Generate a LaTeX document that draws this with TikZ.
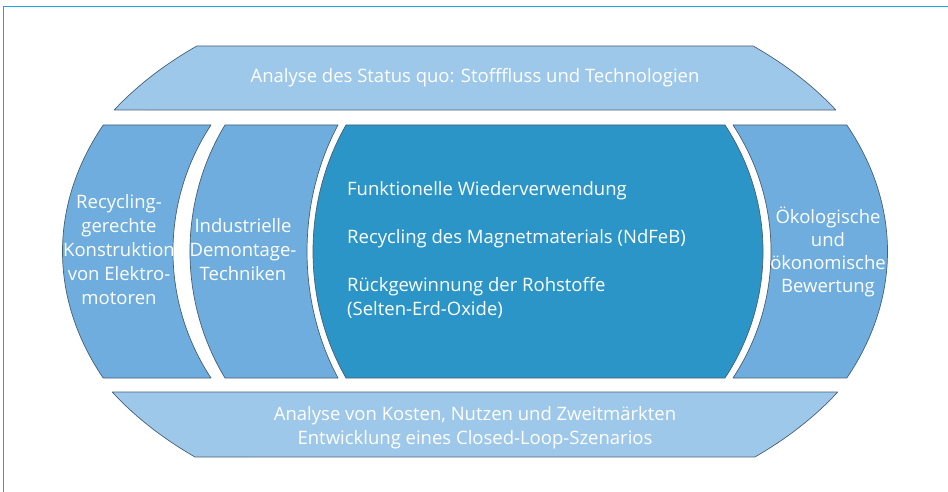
\documentclass[tikz,border=0pt]{standalone}
\usepackage{fontspec}
\setmainfont{Open Sans}
\definecolor{bandblue}{RGB}{158,200,234}
\definecolor{sideblue}{RGB}{110,173,222}
\definecolor{coreblue}{RGB}{43,149,199}
\definecolor{edgegray}{RGB}{72,96,116}
\definecolor{framecyan}{RGB}{24,164,230}
\tikzset{
  piece/.style={draw=edgegray, line width=0.7pt, line join=round},
  band/.style={piece, fill=bandblue},
  side/.style={piece, fill=sideblue},
  core/.style={piece, fill=coreblue},
  lbl/.style={text=white, inner sep=0pt, font=\fontsize{18.5}{24}\selectfont},
  frameline/.style={draw=framecyan, line width=1.6pt},
  outer/.style={x radius=412.5, y radius=292},
  bandarc/.style={x radius=422, y radius=274}
}
\begin{document}
\begin{tikzpicture}[x=1pt, y=-1pt]
\useasboundingbox (0,0) rectangle (948,492);
\fill[white] (0,0) rectangle (948,492);

% frame (only the top and left sides lie inside the page)
\coordinate (fbl) at (3.5,495);
\coordinate (ftr) at (951,6.5);
\draw[frameline] (fbl) |- (ftr);

% top band
\draw[band] (196.8,46) -- (753.2,46)
  arc[start angle=-48.75, end angle=-31.21, bandarc] -- (114.2,110)
  arc[start angle=211.21, end angle=228.75, bandarc] -- cycle;

% bottom band
\draw[band] (112.3,392) -- (837.7,392)
  arc[start angle=30.73, end angle=48.43, bandarc] -- (195,457)
  arc[start angle=131.57, end angle=149.27, bandarc] -- cycle;

% left column
\draw[side] (103.2,125) -- (211,125)
  .. controls (160.3,202) and (160.3,301) .. (211,378) -- (103.2,378)
  arc[start angle=154.33, end angle=205.67, outer] -- cycle;

% second column
\draw[side] (225,125) -- (338,125)
  .. controls (296.7,202) and (296.7,301) .. (338,378) -- (225,378)
  .. controls (178.3,301) and (178.3,202) .. (225,125) -- cycle;

% central block
\draw[core] (346,125) -- (725,125)
  .. controls (775.7,202) and (775.7,301) .. (725,378) -- (346,378)
  .. controls (302,301) and (302,202) .. (346,125) -- cycle;

% right column
\draw[side] (733,125) -- (846.8,125)
  arc[start angle=-25.67, end angle=25.67, outer] -- (733,378)
  .. controls (783.7,301) and (783.7,202) .. (733,125) -- cycle;

% labels
\node[lbl, anchor=base] (status) at (475,83)
  {Analyse des Status quo: Stofffluss und Technologien};
\node[lbl, align=center] (design) at (119,250)
  {Recycling-\\gerechte\\Konstruktion\\von Elektro-\\motoren};
\node[lbl, align=center] (dismantle) at (243,250)
  {Industrielle\\Demontage-\\Techniken};
\node[lbl, align=left, anchor=west] (core) at (347,250)
  {Funktionelle Wiederverwendung\\[24pt]Recycling des Magnetmaterials (NdFeB)\\[24pt]R\"uckgewinnung der Rohstoffe\\(Selten-Erd-Oxide)};
\node[lbl, align=center, font=\fontsize{18.5}{23.3}\selectfont] (assess) at (828,252)
  {\"Okologische\\und\\\"okonomische\\Bewertung};
\node[lbl, align=center] (costs) at (475,428)
  {Analyse von Kosten, Nutzen und Zweitm\"arkten\\Entwicklung eines Closed-Loop-Szenarios};
\end{tikzpicture}
\end{document}
